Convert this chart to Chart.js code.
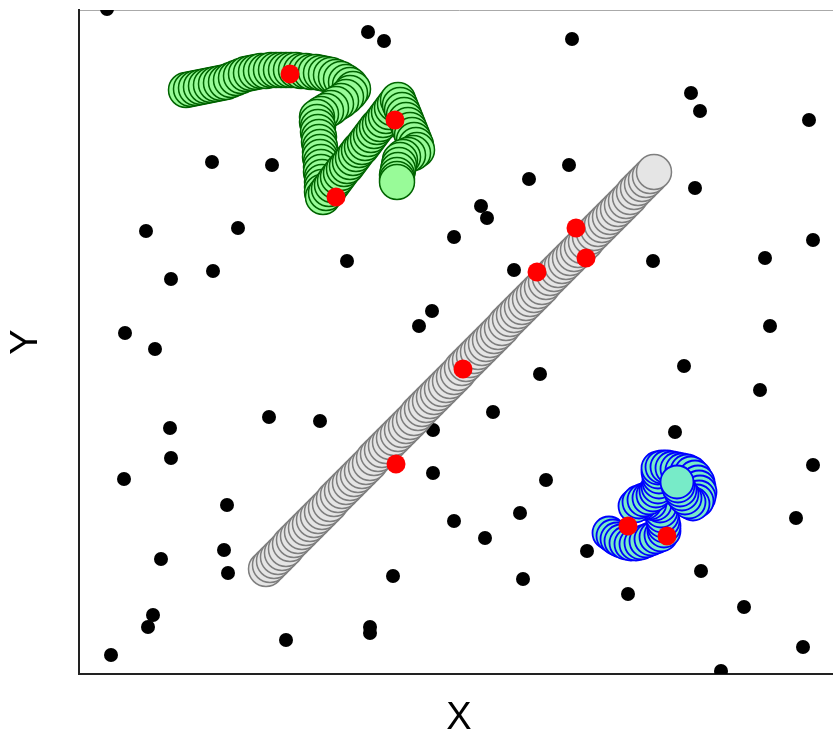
<!DOCTYPE html>
<html>
<head>
<meta charset="utf-8">
<script src="https://cdn.jsdelivr.net/npm/chart.js@4.4.1/dist/chart.umd.min.js"></script>
<style>
  html, body { margin: 0; padding: 0; background: #fff; overflow: hidden; }
  #wrap { width: 839px; height: 738px; }
</style>
</head>
<body>
<div id="wrap"><canvas id="chart" width="839" height="738"></canvas></div>
<script>
(function () {
  'use strict';

  /* Axis ranges (data units) */
  var X_RANGE = [0, 760];
  var Y_RANGE = [0, 664];
  var X_LABEL = 'X';
  var Y_LABEL = 'Y';

  /* Scattered background points */
  var blackDots = [
    [28, 665], [289, 642], [305, 633], [133, 512], [193, 509], [67, 443], [159, 446],
    [375, 437], [268, 413], [92, 395], [134, 403], [353, 363], [340, 348], [46, 341],
    [493, 635], [612, 581], [621, 563], [730, 554], [490, 509], [450, 495], [616, 486],
    [402, 468], [408, 456], [435, 404], [574, 413], [686, 416], [734, 434], [691, 348],
    [76, 325], [91, 246], [92, 216], [45, 195], [190, 257], [241, 253], [354, 244],
    [354, 201], [148, 169], [145, 124], [149, 101], [82, 115], [375, 153], [314, 98],
    [74, 59], [69, 47], [32, 19], [207, 34], [291, 47], [291, 41], [461, 300],
    [414, 262], [605, 308], [681, 284], [596, 242], [734, 209], [467, 194], [441, 161],
    [406, 136], [508, 123], [717, 156], [444, 95], [549, 80], [622, 103], [665, 67],
    [724, 27], [642, 3], [281, -8]
  ];

  /* Highlighted points */
  var redDots = [
    [211, 600], [316, 554], [257, 477], [497, 446], [507, 416],
    [458, 402], [384, 305], [317, 210], [549, 148], [588, 138]
  ];

  /* Green trail, oldest position first */
  var greenTrail = [
    [107, 584], [112, 585], [117, 586], [122, 587], [127, 588], [132, 589], [137, 590],
    [142, 591], [147, 592], [152, 594], [157, 596], [162, 598], [167, 600], [172, 601],
    [177, 602], [182, 603], [187, 603], [192, 604], [197, 604], [202, 604], [207, 604],
    [212, 604], [217, 604], [222, 603], [227, 603], [232, 602], [237, 602], [242, 601],
    [247, 600], [252, 599], [257, 597], [262, 595], [267, 592], [271, 589], [274, 585],
    [271, 581], [267, 577], [262, 573], [257, 570], [252, 566], [247, 563], [242, 560],
    [238, 557], [238, 552], [239, 547], [239, 542], [240, 537], [240, 532], [241, 527],
    [241, 522], [241, 517], [242, 512], [242, 507], [242, 502], [243, 497], [243, 492],
    [243, 487], [243, 482], [244, 477], [247, 481], [250, 485], [253, 489], [256, 493],
    [259, 497], [262, 501], [265, 505], [268, 508], [271, 512], [274, 516], [277, 520],
    [280, 524], [283, 527], [286, 531], [289, 535], [292, 539], [295, 543], [298, 547],
    [301, 550], [304, 554], [307, 558], [310, 562], [313, 566], [316, 570], [319, 574],
    [321, 569], [323, 564], [325, 559], [327, 554], [329, 549], [331, 544], [333, 539],
    [335, 534], [337, 529], [338, 524], [334, 521], [329, 519], [324, 517], [321, 514],
    [320, 509], [319, 504], [318, 499], [318, 495], [318, 492]
  ];

  /* Grey trail, oldest position first */
  var greyTrail = [
    [187, 105], [191, 109], [195, 113], [199, 117], [203, 121], [207, 125], [211, 130],
    [215, 134], [219, 138], [223, 142], [227, 146], [231, 150], [235, 154], [239, 158],
    [243, 162], [247, 166], [251, 170], [255, 175], [259, 179], [263, 183], [267, 187],
    [271, 191], [275, 195], [279, 199], [283, 203], [287, 207], [291, 211], [295, 216],
    [299, 220], [303, 224], [307, 228], [311, 232], [315, 236], [319, 240], [323, 244],
    [327, 248], [331, 252], [335, 256], [339, 261], [343, 265], [347, 269], [351, 273],
    [355, 277], [359, 281], [363, 285], [367, 289], [371, 293], [375, 297], [379, 301],
    [383, 306], [387, 310], [391, 314], [395, 318], [399, 322], [403, 326], [407, 330],
    [411, 334], [415, 338], [419, 342], [423, 346], [427, 351], [431, 355], [435, 359],
    [439, 363], [443, 367], [447, 371], [451, 375], [455, 379], [459, 383], [463, 387],
    [467, 392], [471, 396], [475, 400], [479, 404], [483, 408], [487, 412], [491, 416],
    [495, 420], [499, 424], [503, 428], [507, 432], [511, 437], [515, 441], [519, 445],
    [523, 449], [527, 453], [531, 457], [535, 461], [539, 465], [543, 469], [547, 473],
    [551, 477], [555, 482], [559, 486], [563, 490], [567, 494], [571, 498], [575, 502]
  ];

  /* Blue trail, oldest position first */
  var blueTrail = [
    [530, 141], [534, 138], [538, 135], [542, 133], [547, 131], [552, 130], [557, 130],
    [562, 131], [567, 133], [572, 135], [577, 137], [582, 139], [585, 143],
    [585, 148], [584, 153], [583, 158], [582, 163], [581, 168],
    [576, 170], [571, 171], [566, 171], [561, 170], [556, 168],
    [560, 172], [565, 174], [570, 176], [574, 179], [577, 183], [579, 187], [580, 192],
    [580, 197], [579, 202], [579, 206],
    [583, 207], [588, 207], [593, 206], [598, 205], [603, 204], [608, 203], [612, 201],
    [616, 197], [619, 192], [620, 187], [621, 182], [620, 177], [618, 173], [614, 170],
    [610, 172], [606, 176], [603, 180], [601, 184], [599, 188], [598, 192]
  ];

  var FONT = '"Liberation Sans", Arial, sans-serif';

  function pts(list) {
    return list.map(function (p) { return { x: p[0], y: p[1] }; });
  }

  function series(list, radius, fill, stroke, borderW, order) {
    return {
      data: pts(list),
      pointRadius: radius,
      pointBackgroundColor: fill,
      pointBorderColor: stroke,
      pointBorderWidth: borderW,
      showLine: false,
      clip: 0,
      order: order
    };
  }

  function hiddenAxis(extra) {
    var base = {
      type: 'linear',
      display: true,
      ticks: { display: false },
      grid: { display: false },
      border: { display: true, color: '#222', width: 2 }
    };
    return Object.assign(base, extra);
  }

  new Chart(document.getElementById('chart'), {
    type: 'scatter',
    data: {
      datasets: [
        series(redDots, 9.5, '#ff0000', '#ff0000', 0, 0),
        series(greenTrail, 17.5, '#98fb98', '#006400', 1.5, 1),
        series(greyTrail, 17.5, '#e5e5e5', '#7f7f7f', 1.5, 2),
        series(blueTrail, 16.5, '#77ebc8', '#0000ff', 1.8, 3),
        series(blackDots, 7, '#000000', '#000000', 0, 4)
      ]
    },
    options: {
      responsive: false,
      devicePixelRatio: 1,
      animation: false,
      events: [],
      layout: { padding: 0, autoPadding: false },
      plugins: { legend: { display: false }, tooltip: { enabled: false } },
      scales: {
        x: hiddenAxis({
          position: 'bottom', min: X_RANGE[0], max: X_RANGE[1],
          title: { display: true, text: X_LABEL, color: '#000',
            font: { family: FONT, size: 38, lineHeight: 1 }, padding: { top: 0, bottom: 0 } },
          afterFit: function (s) { s.height = 64; }
        }),
        xTop: hiddenAxis({
          position: 'top', min: X_RANGE[0], max: X_RANGE[1],
          border: { display: true, color: '#aaaaaa', width: 1 },
          afterFit: function (s) { s.height = 10; }
        }),
        y: hiddenAxis({
          position: 'left', min: Y_RANGE[0], max: Y_RANGE[1],
          title: { display: true, text: Y_LABEL, color: '#000',
            font: { family: FONT, size: 38, lineHeight: 1 }, padding: { top: 8, bottom: 0 } },
          afterFit: function (s) { s.width = 79; }
        })
      }
    }
  });
})();
</script>
</body>
</html>
